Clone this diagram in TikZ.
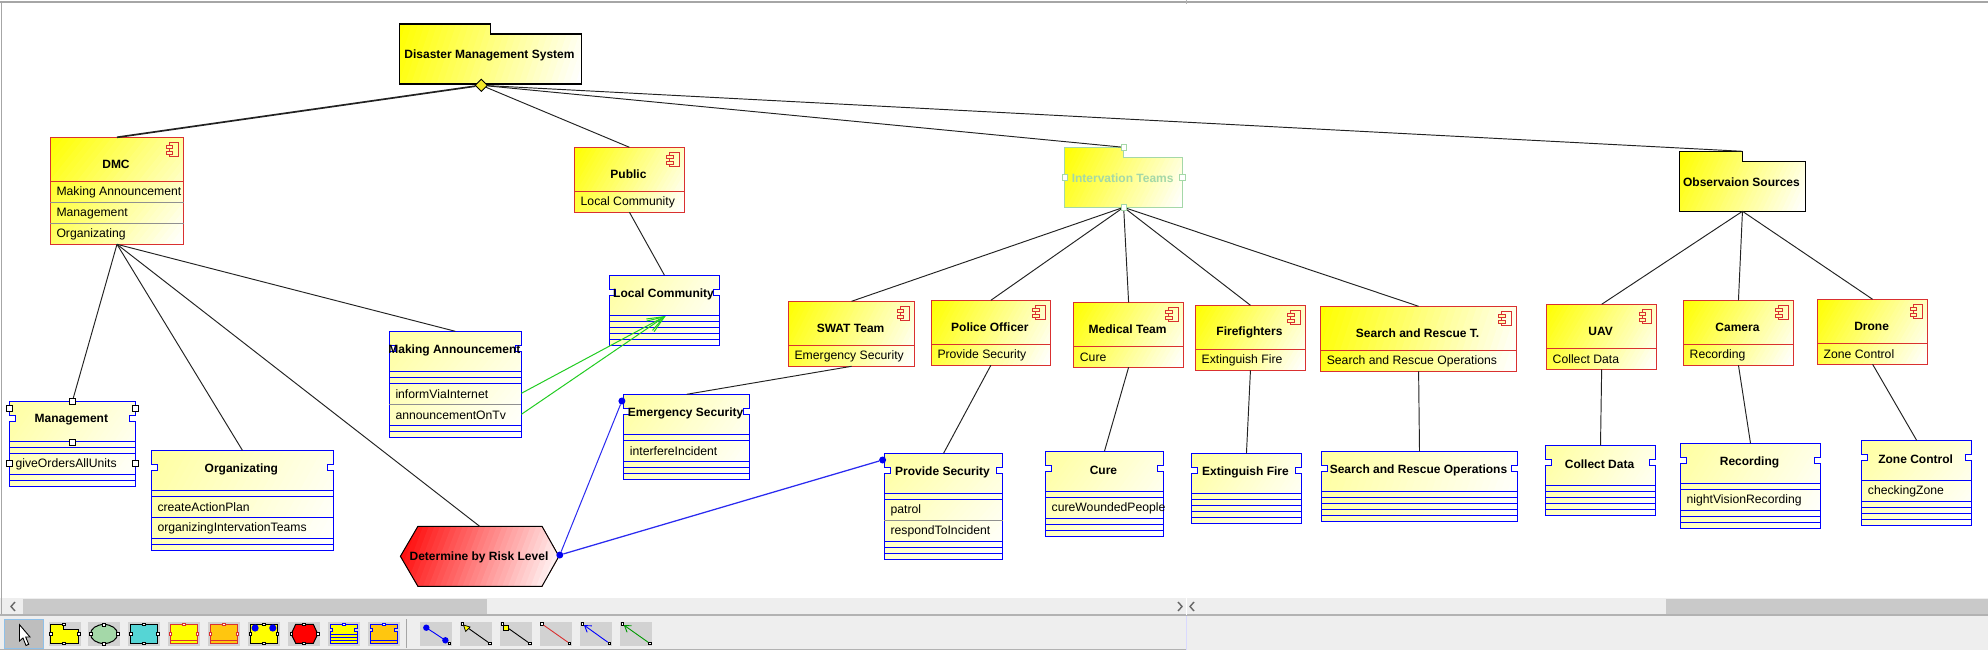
\documentclass[tikz,border=0pt]{standalone}
\usepackage{fontspec}
\setmainfont{Liberation Sans}
\usetikzlibrary{arrows.meta,shapes.geometric,calc}
\definecolor{yy}{RGB}{255,255,0}
\definecolor{ww}{RGB}{255,255,255}
\definecolor{cred}{HTML}{D93030}
\definecolor{cblue}{HTML}{0000FF}
\definecolor{cgray}{HTML}{909090}
\definecolor{cline}{HTML}{222222}
\definecolor{cgreen}{HTML}{22CC22}
\definecolor{pale}{HTML}{FFFFA0}
\definecolor{igreen}{HTML}{A4D8A8}
\definecolor{chrome}{HTML}{EEEEEE}
\definecolor{thumb}{HTML}{C9C9C9}
\definecolor{btn}{HTML}{D2D2D2}
\definecolor{orangeic}{HTML}{FFC60F}
\definecolor{dotblue}{HTML}{0000F0}
\definecolor{lblue}{HTML}{2A2AF0}
\definecolor{cyanic}{HTML}{55D5D5}
\definecolor{selb}{HTML}{8FC0E8}
\definecolor{selg}{HTML}{BEBEBE}
\definecolor{rr}{RGB}{255,0,0}
\definecolor{diam}{HTML}{F5E92A}
\definecolor{iconfill}{HTML}{FFFFB0}
\tikzset{
  bare/.style={inner sep=0pt,outer sep=0pt,anchor=north west},
  boldtxt/.style={font=\fontsize{12}{14}\selectfont\bfseries,inner sep=0pt},
  rowtxt/.style={font=\fontsize{12.2}{14}\selectfont,inner sep=0pt,anchor=west},
  link/.style={draw=cline,line width=0.95pt},
  bluelink/.style={draw=lblue,line width=1pt},
  greenlink/.style={draw=cgreen,line width=1pt,-{Straight Barb[length=17pt,width=13pt,line width=1pt]}},
  handle/.style={draw=black,fill=white,rectangle,inner sep=0pt,minimum size=5.5pt,line width=0.9pt},
  ihandle/.style={draw=igreen,fill=white,rectangle,inner sep=0pt,minimum size=5.5pt,line width=0.9pt},
  bdot/.style={circle,fill=dotblue,inner sep=0pt,minimum size=7pt},
  thandle/.style={draw=black,fill=white,rectangle,inner sep=0pt,minimum size=2.6pt,line width=.5pt},
}
% corner-to-corner gradient in strips: path,x1,y1,x2,y2,colour from,colour to
\newcommand\gradfill[7]{%
  \begin{scope}
  \clip #1;
  \pgfmathsetmacro\gw{#4-#2}\pgfmathsetmacro\gh{#5-#3}%
  \pgfmathsetmacro\gd{veclen(\gw,\gh)}\pgfmathsetmacro\ga{atan2(\gw,\gh)}%
  \pgfmathsetmacro\gcx{(#2+#4)/2}\pgfmathsetmacro\gcy{(#3+#5)/2}%
  \begin{scope}[transform canvas={rotate around={\ga:(\gcx,\gcy)}}]
  \foreach \gi in {0,...,31}{%
    \pgfmathtruncatemacro\gpc{100-\gi*100/31}%
    \fill[#6!\gpc!#7] (\gcx-\gd/2,\gcy-\gd/2+\gi*\gd/32) rectangle (\gcx+\gd/2,\gcy+\gd/2);
  }
  \end{scope}
  \end{scope}%
}
% component: name,x1,y1,x2,title,rows
\newcommand\comp[6]{%
  \pgfmathsetmacro\cw{#4-#2}%
  \def\nrows{0}\foreach \rr in {#6}{\pgfmathsetmacro\tmpn{int(\nrows+1)}\xdef\nrows{\tmpn}}%
  \pgfmathsetmacro\ch{44+21*\nrows}%
  \pgfmathsetmacro\yb{#3+\ch}%
  \gradfill{(#2,#3) rectangle (#4,\yb)}{#2}{#3}{#4}{\yb}{yy}{ww}%
  \node[bare,draw=cred,line width=1pt,minimum width=\cw pt,minimum height=\ch pt] (#1) at (#2,#3) {};
  \pgfmathsetmacro\rx{#4}\pgfmathsetmacro\ty{#3}%
  \draw[cred,line width=.9pt,fill=none] (\rx-14.7,\ty+5) rectangle (\rx-5,\ty+19.4);
  \draw[cred,line width=.9pt,fill=iconfill] (\rx-17.7,\ty+7.7) rectangle (\rx-11,\ty+11);
  \draw[cred,line width=.9pt,fill=iconfill] (\rx-17.7,\ty+13.7) rectangle (\rx-11,\ty+17);
  \node[boldtxt] (#1-t) at ($(#1.north)+(-1,27)$) {#5};
  \foreach \rr [count=\ri] in {#6}{%
    \pgfmathsetmacro\ry{#3+44+21*(\ri-1)}%
    \ifnum\ri=1 \draw[cred,line width=1pt] (#2,\ry)--(#4,\ry);
    \else \draw[cgray,line width=1pt] (#2,\ry)--(#4,\ry);\fi
    \node[rowtxt] (#1-r\ri) at (#2+6,\ry+11.2) {\rr};
  }%
}
% class: name,x1,y1,x2,y2,title,rows (height/text/colour)
\newcommand\cls[7]{%
  \pgfmathsetmacro\cw{#4-#2}\pgfmathsetmacro\ch{#5-#3}%
  \gradfill{(#2,#3)--(#4,#3)--(#4,#3+14)--(#4-6,#3+14)--(#4-6,#3+20)--(#4,#3+20)--(#4,#5)--(#2,#5)--(#2,#3+20)--(#2+6,#3+20)--(#2+6,#3+14)--(#2,#3+14)--cycle}{#2}{#3}{#4}{#5}{pale}{ww}%
  \node[bare,minimum width=\cw pt,minimum height=\ch pt] (#1) at (#2,#3) {};
  \draw[cblue,line width=1pt] (#2,#3)--(#4,#3)--(#4,#3+14)--(#4-6,#3+14)--(#4-6,#3+20)--(#4,#3+20)--(#4,#5)--(#2,#5)--(#2,#3+20)--(#2+6,#3+20)--(#2+6,#3+14)--(#2,#3+14)--cycle;
  \node[boldtxt] (#1-t) at ($(#1.north)+(-1,18.7)$) {#6};
  \pgfmathsetmacro\cury{#3+40}\xdef\cury{\cury}%
  \draw[cblue,line width=1pt] (#2,\cury)--(#4,\cury);
  \foreach \rh/\rt/\rc [count=\ri] in {#7}{%
    \pgfmathsetmacro\nexty{\cury+\rh}%
    \draw[\rc,line width=1pt] (#2,\nexty)--(#4,\nexty);
    \node[rowtxt] (#1-r\ri) at (#2+6,\cury+\rh/2+.8) {\rt};
    \xdef\cury{\nexty}%
  }%
}
% package: name,x1,y1,x2,notchx,border,textcolour,title
\newcommand\pkg[8]{%
  \pgfmathsetmacro\cw{#4-#2}\pgfmathsetmacro\yb{#3+60}%
  \gradfill{(#2,#3)--(#5,#3)--(#5,#3+10)--(#4,#3+10)--(#4,#3+60)--(#2,#3+60)--cycle}{#2}{#3}{#4}{\yb}{yy}{ww}%
  \node[bare,minimum width=\cw pt,minimum height=60pt] (#1) at (#2,#3) {};
  \draw[#6,line width=1.1pt] (#2,#3)--(#5,#3)--(#5,#3+10)--(#4,#3+10)--(#4,#3+60)--(#2,#3+60)--cycle;
  \node[boldtxt,text=#7] (#1-t) at ($(#1.center)+(-1,1.3)$) {#8};
}
\begin{document}
\begin{tikzpicture}[x=1pt,y=-1pt]
\useasboundingbox (0,0) rectangle (1988,650);
\fill[white] (0,0) rectangle (1988,650);
% ---- window chrome
\fill[chrome] (0,598) rectangle (1988,650);
\draw[gray!70,line width=1.6pt] (0,2)--(1988,2);
\draw[gray!70,line width=1.6pt] (1.5,2)--(1.5,615);
\fill[thumb] (23,599) rectangle (487,614);
\fill[thumb] (1666,599) rectangle (1988,614);
\draw[gray!60,line width=1.2pt] (0,615)--(1988,615);
\draw[gray!60,line width=1pt] (0,649.5)--(1186,649.5);
\draw[blue!15,line width=.8pt] (1186,616)--(1186,650);
\draw[white,line width=.8pt] (1186,598)--(1186,615);
\draw[gray!60,line width=.6pt] (1186,0)--(1186,4);
\draw[black!60,line width=1.4pt] (15,602)--(11,606.5)--(15,611);
\draw[black!60,line width=1.4pt] (1178,602)--(1182,606.5)--(1178,611);
\draw[black!60,line width=1.4pt] (1194,602)--(1190,606.5)--(1194,611);
% ---- packages
\pkg{root}{399.3}{24}{581.7}{490.3}{black}{black}{Disaster Management System}
\pkg{teams}{1064.7}{147.3}{1182.6}{1123.7}{igreen}{igreen}{Intervation Teams}
\pkg{obs}{1679.5}{151.3}{1805.4}{1742.5}{black}{black}{Observaion Sources}
% ---- components
\comp{dmc}{50.3}{137.3}{183.7}{DMC}{Making Announcement,Management,Organizating}
\comp{public}{574.5}{147.3}{684.4}{Public}{Local Community}
\comp{swat}{788.4}{301.3}{914.7}{SWAT Team}{Emergency Security}
\comp{police}{931.3}{300.3}{1050.4}{Police Officer}{Provide Security}
\comp{medical}{1073.7}{302.3}{1183.5}{Medical Team}{Cure}
\comp{fire}{1195.5}{305.3}{1305.4}{Firefighters}{Extinguish Fire}
\comp{search}{1320.6}{306.3}{1516.6}{Search and Rescue T.}{Search and Rescue Operations}
\comp{uav}{1546.5}{304.3}{1656.8}{UAV}{Collect Data}
\comp{camera}{1683.5}{300.3}{1793.4}{Camera}{Recording}
\comp{drone}{1817.5}{299.3}{1927.7}{Drone}{Zone Control}
% ---- classes
\cls{local}{609.4}{275.3}{719.6}{345.5}{Local Community}{6//cblue,6//cblue,6//cblue,6//cblue}
\cls{announce}{389.3}{331.3}{521.4}{437.3}{Making Announcement}{6//cblue,6//cblue,21/informViaInternet/cgray,21/announcementOnTv/cblue,6//cblue}
\cls{mgmt}{9.4}{401.3}{135.3}{486.3}{Management}{6//cblue,6//cblue,21/giveOrdersAllUnits/cblue,6//cblue}
\cls{org}{151.3}{450.3}{333.5}{550.3}{Organizating}{6//cblue,21/createActionPlan/cblue,21/organizingIntervationTeams/cblue,6//cblue}
\cls{emerg}{623.7}{394.3}{749.6}{479.3}{Emergency Security}{6//cblue,21/interfereIncident/cblue,6//cblue,6//cblue}
\cls{provide}{884.4}{453.3}{1002.7}{559.3}{Provide Security}{6//cblue,21/patrol/cgray,21/respondToIncident/cblue,6//cblue,6//cblue}
\cls{cure}{1045.5}{451.3}{1163.4}{536.3}{Cure}{6//cblue,21/cureWoundedPeople/cblue,6//cblue,6//cblue}
\cls{ext}{1191.5}{453.3}{1301.4}{523.3}{Extinguish Fire}{6//cblue,6//cblue,6//cblue,6//cblue}
\cls{srops}{1321.5}{451.3}{1517.5}{521.3}{Search and Rescue Operations}{6//cblue,6//cblue,6//cblue,6//cblue}
\cls{collect}{1545.6}{445.3}{1655.4}{515.3}{Collect Data}{6//cblue,6//cblue,6//cblue,6//cblue}
\cls{rec}{1680.4}{443.3}{1820.6}{528.3}{Recording}{6//cblue,21/nightVisionRecording/cblue,6//cblue,6//cblue}
\cls{zone}{1861.7}{440.3}{1971.5}{525.3}{Zone Control}{21/checkingZone/cblue,6//cblue,6//cblue,6//cblue}
% ---- hexagon
\gradfill{(400.4,556.3)--(417.9,526.3)--(542,526.3)--(558.9,556.3)--(542,586.3)--(417.9,586.3)--cycle}{400.4}{526.3}{558.9}{586.3}{rr}{ww}
\node[bare,minimum width=158.5pt,minimum height=60pt] (hex) at (400.4,526.3) {};
\draw[black,line width=1pt] (400.4,556.3)--(417.9,526.3)--(542,526.3)--(558.9,556.3)--(542,586.3)--(417.9,586.3)--cycle;
\node[boldtxt] (hex-t) at (479,557.5) {Determine by Risk Level};
% ---- connectors
\node[diamond,draw=black,fill=diam,line width=.9pt,inner sep=0pt,minimum size=12.5pt] (rootd) at (481.3,85.3) {};
\draw[link,line width=1.7pt] (rootd)--(dmc.north);
\draw[link] (rootd)--(public.north);
\draw[link] (rootd)--(teams.north);
\draw[link] (rootd)--(obs.north);
\draw[link] (dmc.south)--(mgmt.north);
\draw[link] (dmc.south)--(org.north);
\draw[link] (dmc.south)--(hex.north);
\draw[link] (dmc.south)--(announce.north);
\draw[link] (public.south)--(local.north);
\foreach \c in {swat,police,medical,fire,search}{\draw[link] (teams.south)--(\c.north);}
\foreach \c in {uav,camera,drone}{\draw[link] (obs.south)--(\c.north);}
\draw[link] (swat.south)--(emerg.north);
\draw[link] (police.south)--(provide.north);
\draw[link] (medical.south)--(cure.north);
\draw[link] (fire.south)--(ext.north);
\draw[link] (search.south)--(srops.north);
\draw[link] (uav.south)--(collect.north);
\draw[link] (camera.south)--(rec.north);
\draw[link] (drone.south)--(zone.north);
% blue links
\node[bdot] (dh) at (559.8,555) {};
\node[bdot] (de) at (621.9,401) {};
\node[bdot] (dp) at (882.6,460) {};
\draw[bluelink] (dh)--(de);
\draw[bluelink,line width=1.25pt] (dh)--(dp);
% green links
\coordinate (ma1) at (521.4,393.3);
\coordinate (ma2) at (521.4,414.3);
\coordinate (lcc) at (665.6,316);
\draw[greenlink] (ma1)--(lcc);
\draw[greenlink] (ma2)--(lcc);
% handles
\node[handle] (m1) at (72.3,401.3) {};
\node[handle] (m2) at (9.4,408.3) {};
\node[handle] (m3) at (135.3,408.3) {};
\node[handle] (m4) at (72.3,442.3) {};
\node[handle] (m5) at (9.4,463.3) {};
\node[handle] (m6) at (135.3,463.3) {};
\node[ihandle] (t1) at (1123.7,147.3) {};
\node[ihandle] (t2) at (1064.7,177.3) {};
\node[ihandle] (t3) at (1182.6,177.3) {};
\node[ihandle] (t4) at (1123.7,207.3) {};
% ---- toolbar
\fill[selg] (4.3,619.3) rectangle (43.4,648.7);
\draw[selb,line width=1.2pt] (4.3,619.3) rectangle (43.4,648.7);
\draw[black,fill=white,line width=.9pt] (19.5,624.7)--(19.5,641)--(23,638)--(26,645.5)--(28.7,644.3)--(25.7,637)--(30,637)--cycle;
\foreach \bx in {48.6,88,128,167.8,207.7,247.6,288,327.8,367.7,419.8,459.7,499.6,539.9,579.8,619.7}{\fill[btn] (\bx,622) rectangle ++(32,24);}
\draw[gray!70,line width=1pt] (406.5,619)--(406.5,648);
% package icon
\begin{scope}[shift={(48.6,622)}]
\draw[black,fill=yy,line width=1pt] (2,2.3)--(15,2.3)--(15,7.3)--(30,7.3)--(30,21.3)--(2,21.3)--cycle;
\node[thandle] (a1) at (15,2.3) {};\node[thandle] (a2) at (2,12) {};\node[thandle] (a3) at (30,12) {};\node[thandle] (a4) at (15,21.3) {};
\end{scope}
% ellipse icon
\begin{scope}[shift={(88,622)}]
\draw[black,fill=igreen,line width=1pt] (16,12) ellipse [x radius=13.5,y radius=9.5];
\node[thandle] (b1) at (16,2.5) {};\node[thandle] (b2) at (2.5,12) {};\node[thandle] (b3) at (29.5,12) {};\node[thandle] (b4) at (16,21.5) {};
\end{scope}
% cyan icon
\begin{scope}[shift={(128,622)}]
\draw[black,fill=cyanic,line width=1pt] (2.5,2.3) rectangle (29.5,21.3);
\node[thandle] (c1) at (16,2.3) {};\node[thandle] (c2) at (2.5,12) {};\node[thandle] (c3) at (29.5,12) {};\node[thandle] (c4) at (16,21.3) {};
\end{scope}
% component icons
\foreach \bx/\fc in {167.8/yy,207.7/orangeic}{
\begin{scope}[shift={(\bx,622)}]
\draw[cred,fill=\fc,line width=1pt] (2.5,2.3) rectangle (29.5,21.3);
\draw[cred,line width=1pt] (2.5,18.7)--(29.5,18.7);
\node[thandle,draw=cred] (d1) at (16,2.3) {};\node[thandle,draw=cred] (d2) at (2.5,12) {};\node[thandle,draw=cred] (d3) at (29.5,12) {};
\end{scope}}
% yellow with dots
\begin{scope}[shift={(247.6,622)}]
\draw[black,fill=yy,line width=1pt] (2.5,2.3) rectangle (29.5,21.3);
\fill[dotblue] (7.5,6) circle [radius=3.6];\fill[dotblue] (25.2,6) circle [radius=3.6];
\node[thandle] (e1) at (16,2.3) {};\node[thandle] (e2) at (2.5,12) {};\node[thandle] (e3) at (29.5,12) {};\node[thandle] (e4) at (16,21.3) {};
\end{scope}
% red hexagon icon
\begin{scope}[shift={(288,622)}]
\draw[black,fill=rr,line width=1pt] (3.2,12)--(7.7,2.3)--(25.3,2.3)--(29.8,12)--(25.3,21.3)--(7.7,21.3)--cycle;
\node[thandle] (f1) at (16,2.3) {};\node[thandle] (f2) at (3.2,12) {};\node[thandle] (f3) at (29.8,12) {};\node[thandle] (f4) at (16,21.3) {};
\end{scope}
% class icons
\begin{scope}[shift={(327.8,622)}]
\draw[cblue,fill=yy,line width=1pt] (2.5,2.3)--(29.5,2.3)--(29.5,6)--(27,6)--(27,9)--(29.5,9)--(29.5,21.3)--(2.5,21.3)--(2.5,9)--(5,9)--(5,6)--(2.5,6)--cycle;
\foreach \ly in {12.5,15.5,18.5}{\draw[cblue,line width=1pt] (2.5,\ly)--(29.5,\ly);}
\node[thandle,draw=cblue] (g1) at (16,2.3) {};
\end{scope}
\begin{scope}[shift={(367.7,622)}]
\draw[cblue,fill=orangeic,line width=1pt] (2.5,2.3)--(29.5,2.3)--(29.5,6)--(27,6)--(27,9)--(29.5,9)--(29.5,21.3)--(2.5,21.3)--(2.5,9)--(5,9)--(5,6)--(2.5,6)--cycle;
\draw[cblue,line width=1pt] (2.5,18.7)--(29.5,18.7);
\node[thandle,draw=cblue] (g2) at (16,2.3) {};
\end{scope}
% connector icons
\node[thandle] (ia2) at (449.3,643.3) {};
\draw[cblue,line width=.9pt] (426.3,627.7)--(445.4,640.3);
\fill[dotblue] (426.3,627.7) circle [radius=3.2];
\fill[dotblue] (445.4,640.3) circle [radius=3.2];
\node[thandle] (ib1) at (462.3,624) {};\node[thandle] (ib2) at (489.6,643.3) {};
\draw[black,line width=.9pt] (ib1)--(ib2);
\draw[black,fill=yy,line width=.7pt] (463.5,625)--(470,627)--(465.7,631.5)--cycle;
\node[thandle] (ic1) at (502.2,624) {};\node[thandle] (ic2) at (529.5,643.3) {};
\draw[black,line width=.9pt] (ic1)--(ic2);
\draw[black,fill=yy,line width=.7pt] (503.7,625)--(508.5,625)--(508.5,630)--(503.7,630)--cycle;
\node[thandle] (id1) at (542,624) {};\node[thandle] (id2) at (569.4,643.3) {};
\draw[cred,line width=.9pt] (id1)--(id2);
\node[thandle] (ie1) at (582.4,624) {};\node[thandle] (ie2) at (609.3,643.3) {};
\draw[cblue,line width=.9pt,{Straight Barb[length=6pt,width=8pt]}-] (ie1)--(ie2);
\node[thandle] (if1) at (622.3,624) {};\node[thandle] (if2) at (649.6,643.3) {};
\draw[green!60!black,line width=.9pt,{Straight Barb[length=6pt,width=8pt]}-] (if1)--(if2);
\end{tikzpicture}
\end{document}
